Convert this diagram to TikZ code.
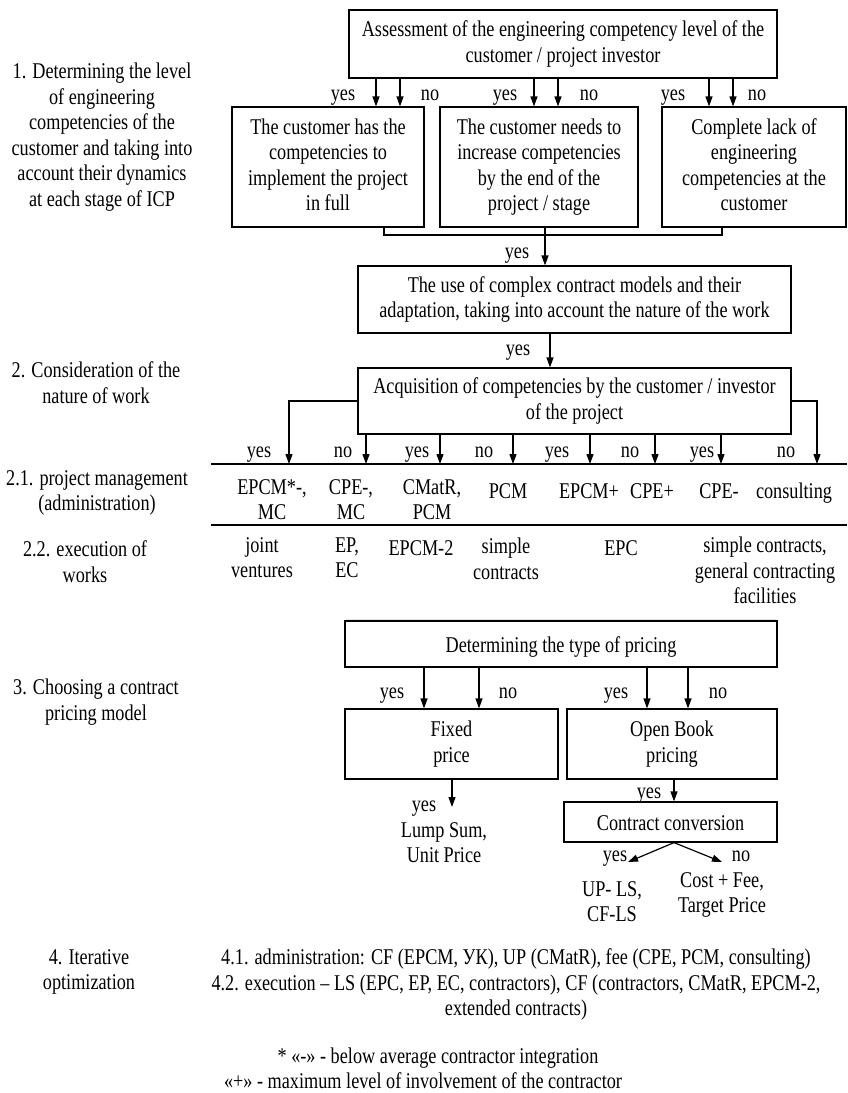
\documentclass[tikz,border=0pt]{standalone}
\usepackage{fontspec}
\setmainfont{Liberation Serif}[FakeStretch=0.81]
\usetikzlibrary{arrows.meta}
\newcommand\topstrutx{\rule{0pt}{21pt}}
\newcommand\botstrutx{\rule[-5pt]{0pt}{5pt}}
\begin{document}
\begin{tikzpicture}[x=1pt,y=-1pt,
  every node/.style={font=\fontsize{22.5}{25.5}\selectfont, align=center, inner sep=0pt,
    execute at begin node=\topstrutx, execute at end node=\botstrutx},
  box/.style={draw, line width=1.2pt},
  arr/.style={line width=1.2pt, -{Triangle[length=10pt,width=7pt]}},
  conn/.style={line width=1.2pt},
  rule/.style={line width=2pt}]
\useasboundingbox (0,0) rectangle (847,1093);
\fill[white] (0,0) rectangle (847,1093);

% ---------- left labels
\node (l1) at (102,137) {1. Determining the level\\of engineering\\competencies of the\\customer and taking into\\account their dynamics\\at each stage of ICP};
\node (l2) at (96,385) {2. Consideration of the\\nature of work};
\node (l21) at (97,493) {2.1. project management\\(administration)};
\node (l22) at (85,564) {2.2. execution of\\works};
\node (l3) at (96,702) {3. Choosing a contract\\pricing model};
\node (l4) at (89,972) {4. Iterative\\optimization};

% ---------- stage 1
\node[box, minimum width=428, minimum height=68] (top) at (563,44) {Assessment of the engineering competency level of the\\customer / project investor};
\node[box, minimum width=192, minimum height=120] (b1) at (328,167) {The customer has the\\competencies to\\implement the project\\in full};
\node[box, minimum width=198, minimum height=120] (b2) at (539,167) {The customer needs to\\increase competencies\\by the end of the\\project / stage};
\node[box, minimum width=184, minimum height=120] (b3) at (754,167) {Complete lack of\\engineering\\competencies at the\\customer};

\foreach \x in {376,400} \draw[arr] (\x,0 |- top.south) -- (\x,0 |- b1.north);
\foreach \x in {534,558} \draw[arr] (\x,0 |- top.south) -- (\x,0 |- b2.north);
\foreach \x in {709,733} \draw[arr] (\x,0 |- top.south) -- (\x,0 |- b3.north);
\node (y1) at (343,92) {yes};
\node (n1) at (430,92) {no};
\node (y2) at (505,92) {yes};
\node (n2) at (589,92) {no};
\node (y3) at (673,92) {yes};
\node (n3) at (757,92) {no};

\node[box, minimum width=433, minimum height=67] (b4) at (574.5,299.5) {The use of complex contract models and their\\adaptation, taking into account the nature of the work};
\node[box, minimum width=433, minimum height=66] (b5) at (574.5,401) {Acquisition of competencies by the customer / investor\\of the project};

\draw[conn] (384,0 |- b1.south) -- (384,235) -- (722,235) -- (722,0 |- b3.south);
\draw[arr] (545,0 |- b2.south) -- (545,0 |- b4.north);
\node (y4) at (517,250) {yes};
\draw[arr] (550,0 |- b4.south) -- (550,0 |- b5.north);
\node (y5) at (518,347) {yes};

% ---------- stage 2 table
\coordinate (r1a) at (211,464);
\coordinate (r1b) at (847,464);
\coordinate (r2a) at (211,525);
\coordinate (r2b) at (847,525);
\draw[rule] (r1a) -- (r1b);
\draw[rule] (r2a) -- (r2b);

\draw[arr] (b5.west) -| (289,0 |- r1a);
\draw[arr] (b5.east) -| (817,0 |- r1a);
\foreach \x in {366,440,513,590,655,721} \draw[arr] (\x,0 |- b5.south) -- (\x,0 |- r1a);

\node at (259,449) {yes};
\node at (343,449) {no};
\node at (417,449) {yes};
\node at (484,449) {no};
\node at (557,449) {yes};
\node at (630,449) {no};
\node at (702,449) {yes};
\node at (786,449) {no};

\node (p1) at (272,502) {EPCM*-,\\MC};
\node (p2) at (351,502) {CPE-,\\MC};
\node (p3) at (432,502) {CMatR,\\PCM};
\node (p4) at (508,490) {PCM};
\node (p5) at (589,490) {EPCM+};
\node (p6) at (652,490) {CPE+};
\node (p7) at (719,490) {CPE-};
\node (p8) at (794,490) {consulting};

\node (e1) at (262,560) {joint\\ventures};
\node (e2) at (347,560) {EP,\\EC};
\node (e3) at (421,547) {EPCM-2};
\node (e4) at (506,561) {simple\\contracts};
\node (e5) at (621,547) {EPC};
\node (e6) at (765,573) {simple contracts,\\general contracting\\facilities};

\draw[black!10, line width=1pt] (346,619) -- (776,619);

% ---------- stage 3 pricing
\node[box, minimum width=432, minimum height=46] (pr) at (561,644) {Determining the type of pricing};
\node[box, minimum width=213, minimum height=70] (fx) at (451.5,744) {Fixed\\price};
\node[box, minimum width=210, minimum height=70] (ob) at (672,744) {Open Book\\pricing};
\node[box, minimum width=213, minimum height=40] (cc) at (670.5,822) {Contract conversion};

\foreach \x in {424,479} \draw[arr] (\x,0 |- pr.south) -- (\x,0 |- fx.north);
\foreach \x in {647,688} \draw[arr] (\x,0 |- pr.south) -- (\x,0 |- ob.north);
\node at (392,690) {yes};
\node at (508,690) {no};
\node at (616,690) {yes};
\node at (718,690) {no};

\coordinate (fxEnd) at (452,807);
\draw[arr] (452,0 |- fx.south) -- (fxEnd);
\node at (424,803) {yes};
\node (ls) at (444,845) {Lump Sum,\\Unit Price};

\draw[arr] (674,0 |- ob.south) -- (674,0 |- cc.north);
\node at (649,790) {yes};

\coordinate (ccL) at (628,862);
\coordinate (ccR) at (722,862);
\draw[arr] (674,0 |- cc.south) -- (ccL);
\draw[arr] (674,0 |- cc.south) -- (ccR);
\node at (615,853) {yes};
\node at (741,853) {no};
\node (up) at (612,904) {UP- LS,\\CF-LS};
\node (cf) at (722,895) {Cost + Fee,\\Target Price};

% ---------- stage 4
\node (opt) at (516,985) {4.1. administration: CF (EPCM, УК), UP (CMatR), fee (CPE, PCM, consulting)\\4.2. execution – LS (EPC, EP, EC, contractors), CF (contractors, CMatR, EPCM-2,\\extended contracts)};

\node (f1) at (438,1055) {* «-» - below average contractor integration};
\node (f2) at (423,1080) {«+» - maximum level of involvement of the contractor};
\end{tikzpicture}
\end{document}
